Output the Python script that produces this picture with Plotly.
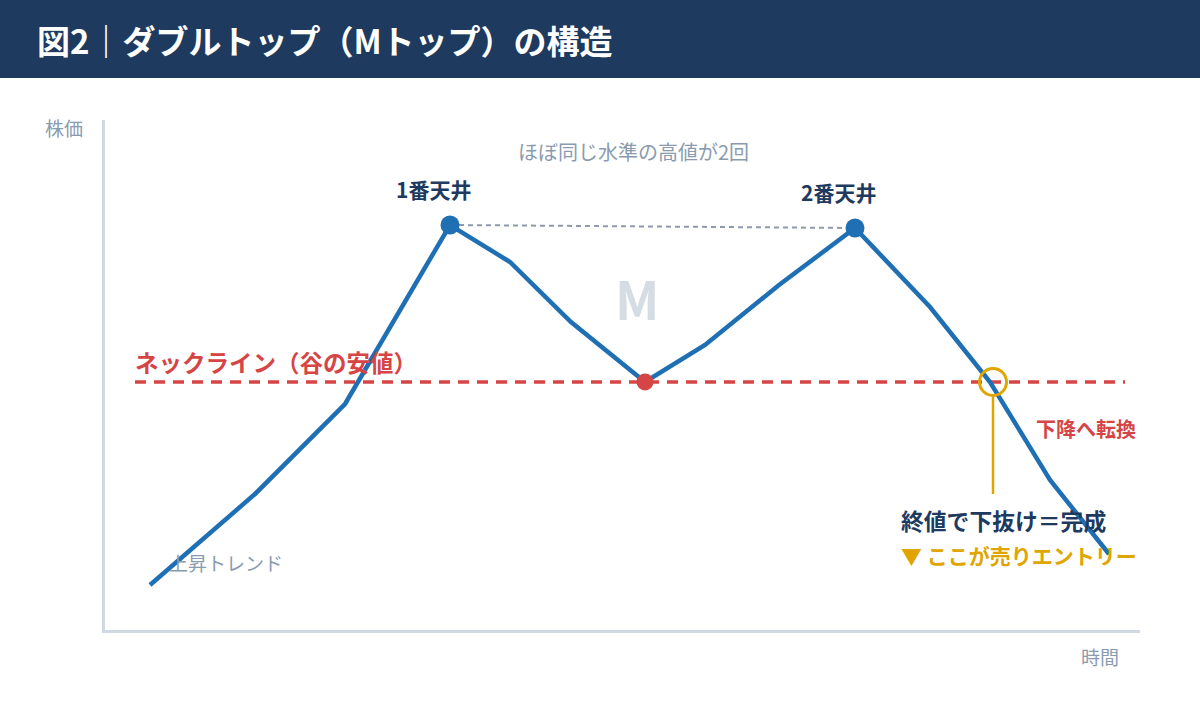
import plotly.graph_objects as go

# ---- data (time index, price) ----
time = [4.5, 15.0, 24.0, 34.5, 40.5, 46.6, 54.0, 60.0, 67.4, 75.0, 82.5, 88.5, 94.5, 100.4]
price = [4.5, 13.6, 22.6, 40.5, 36.8, 30.8, 24.8, 28.5, 34.5, 40.2, 32.3, 24.8, 15.0, 7.6]
peak_time = [34.5, 75.0]
peak_price = [40.5, 40.2]
peak_labels = ["1番天井", "2番天井"]
trough_time = [54.0]
trough_price = [24.8]
neckline = 24.8
neck_span = [3.0, 102.0]
break_time = 88.8
break_line_bottom = 13.6

FONT = "Noto Sans CJK JP"
NAVY = "#1e3a5f"
BLUE = "#1f6fb4"
RED = "#d64545"
GOLD = "#e0a500"
GRAY = "#8a9bb0"
AXIS = "#cfd8e3"

W, H = 1200, 720
ML, MR, MT, MB = 105, 60, 120, 90
PW, PH = W - ML - MR, H - MT - MB


def px(x):
    return (x - ML) / PW


def py(y):
    return 1 - (y - MT) / PH


fig = go.Figure()

# neckline
fig.add_trace(go.Scatter(x=neck_span, y=[neckline, neckline], mode="lines",
                         line=dict(color=RED, width=3.5, dash="11px,8px"),
                         hoverinfo="skip"))
# dotted line between peaks
fig.add_trace(go.Scatter(x=peak_time, y=peak_price, mode="lines",
                         line=dict(color="#8e9aab", width=2, dash="5px,4px"),
                         hoverinfo="skip"))
# price line
fig.add_trace(go.Scatter(x=time, y=price, mode="lines",
                         line=dict(color=BLUE, width=4.5), hoverinfo="skip"))
# peaks
fig.add_trace(go.Scatter(x=peak_time, y=peak_price, mode="markers",
                         marker=dict(color=BLUE, size=19), hoverinfo="skip"))
for t, p, lab in zip(peak_time, peak_price, peak_labels):
    fig.add_annotation(x=t, y=p, text=lab, showarrow=False, yshift=36,
                       xshift=-17, xanchor="center", yanchor="middle",
                       font=dict(family=FONT, size=21, color=NAVY, weight="bold"))
# trough
fig.add_trace(go.Scatter(x=trough_time, y=trough_price, mode="markers",
                         marker=dict(color=RED, size=17), hoverinfo="skip"))
# vertical gold line
fig.add_trace(go.Scatter(x=[break_time, break_time], y=[neckline - 1.3, break_line_bottom],
                         mode="lines", line=dict(color=GOLD, width=2.5), hoverinfo="skip"))
# breakout circle
fig.add_trace(go.Scatter(x=[break_time], y=[neckline], mode="markers",
                         marker=dict(symbol="circle-open", size=27, color=GOLD,
                                     line=dict(color=GOLD, width=3)),
                         hoverinfo="skip"))

# header bar
fig.add_shape(type="rect", xref="paper", yref="paper",
              x0=px(0), x1=px(W), y0=py(78), y1=py(0),
              fillcolor=NAVY, line_width=0, layer="below")


def ann(text, x, y, size, color, bold=False, xanchor="left", yanchor="middle"):
    fig.add_annotation(text=text, xref="paper", yref="paper", x=px(x), y=py(y),
                       showarrow=False, xanchor=xanchor, yanchor=yanchor,
                       font=dict(family=FONT, size=size, color=color,
                                 weight="bold" if bold else "normal"))


ann("図2｜ダブルトップ（Mトップ）の構造", 35, 40, 33, "white", bold=True)
ann("株価", 64, 128, 19, GRAY, xanchor="center")
ann("時間", 1100, 656, 19, GRAY, xanchor="center")
ann("ほぼ同じ水準の高値が2回", 633, 151, 20, GRAY, xanchor="center")
ann("M", 637, 297, 52, "#d5dce4", bold=True, xanchor="center")
ann("ネックライン（谷の安値）", 133, 362, 23.5, RED, bold=True)
ann("下降へ転換", 1034, 428, 20, RED, bold=True)
ann("終値で下抜け＝完成", 899, 520, 22.8, NAVY, bold=True)
ann("▼ ここが売りエントリー", 899, 555, 21, GOLD, bold=True)
ann("上昇トレンド", 167, 562, 19, GRAY)

fig.update_layout(
    width=W, height=H, showlegend=False,
    margin=dict(l=ML, r=MR, t=MT, b=MB, pad=0),
    paper_bgcolor="white", plot_bgcolor="white",
    xaxis=dict(range=[0, PW / 10], showgrid=False, zeroline=False, showticklabels=False,
               ticks="", showline=True, linecolor=AXIS, linewidth=3, fixedrange=True),
    yaxis=dict(range=[0, PH / 10], showgrid=False, zeroline=False, showticklabels=False,
               ticks="", showline=True, linecolor=AXIS, linewidth=3, fixedrange=True),
    font=dict(family=FONT),
)

fig.write_html("out.html", config={"displayModeBar": False})
